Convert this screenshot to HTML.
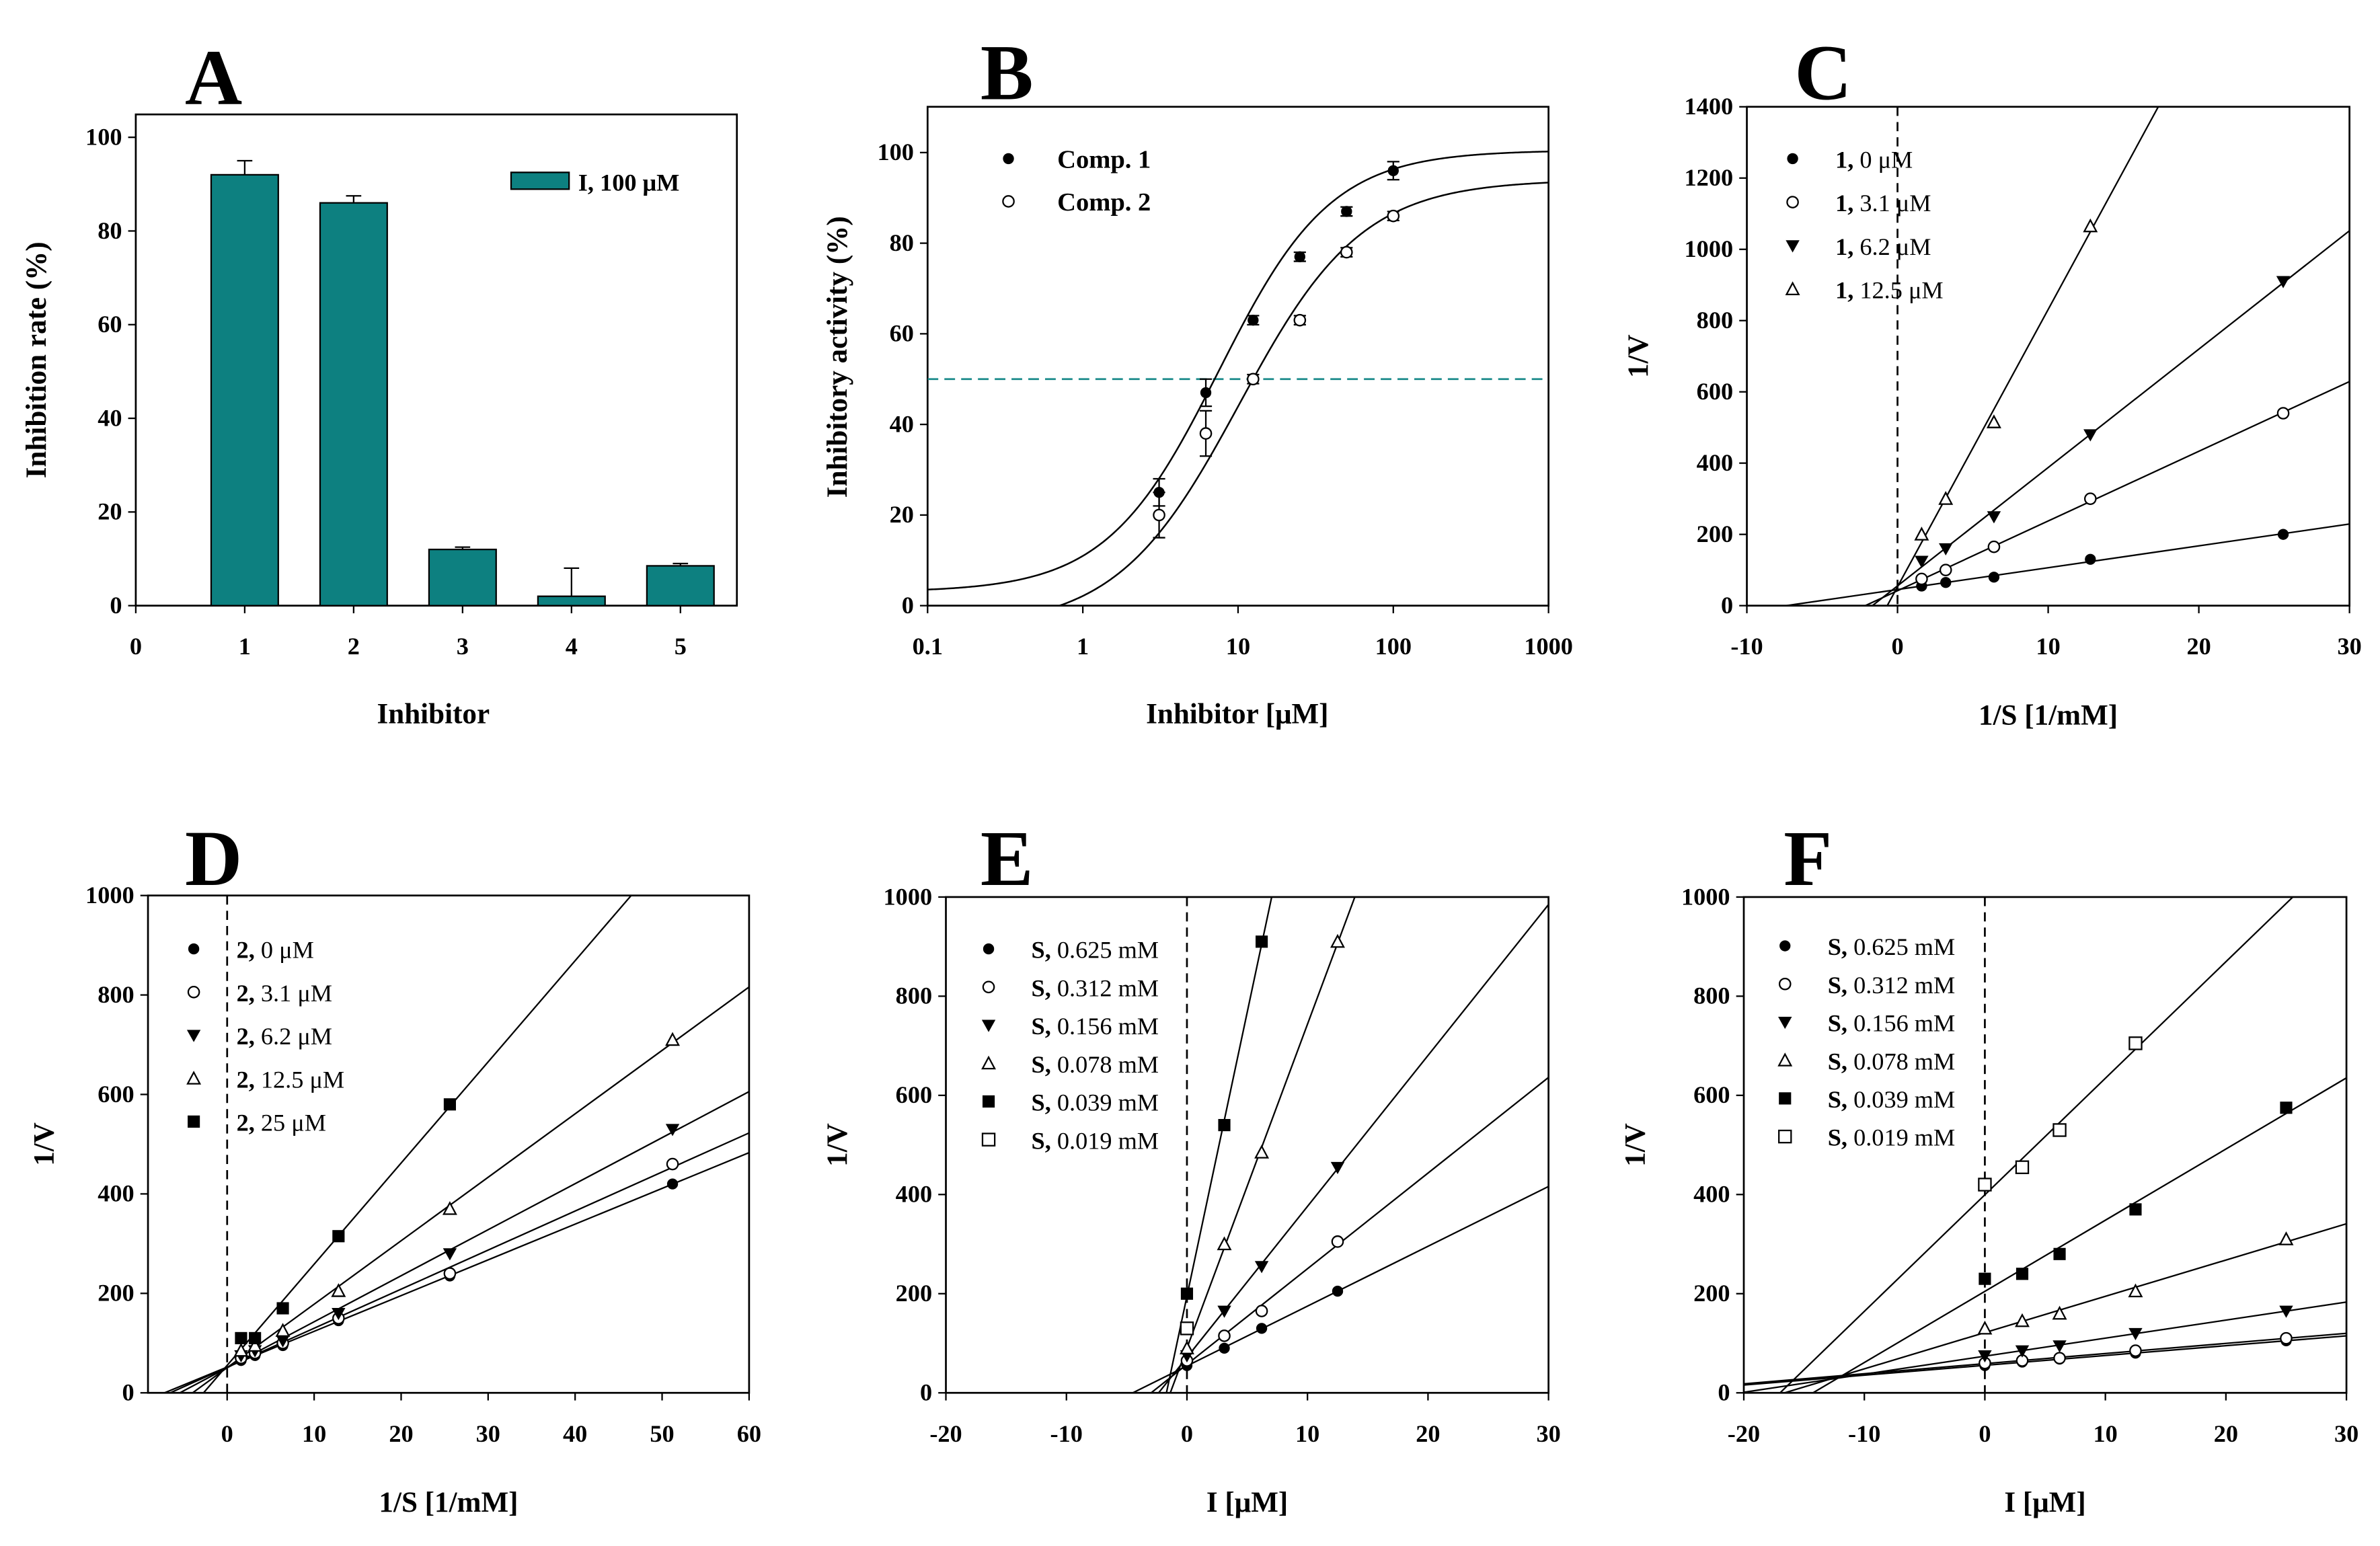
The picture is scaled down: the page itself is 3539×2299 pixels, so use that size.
<!DOCTYPE html>
<html><head><meta charset="utf-8"><style>
html,body{margin:0;padding:0;background:#fff;width:3539px;height:2299px;overflow:hidden}
svg{display:block}
text{font-family:"Liberation Serif",serif;font-weight:bold;fill:#000}
</style></head><body>
<svg id="fig" width="3539" height="2299" viewBox="0 0 1560 1013.4" preserveAspectRatio="none" xmlns="http://www.w3.org/2000/svg"></svg>
<script>
// ---- Panel A data ----
const aCats = [1,2,3,4,5];
const aVals = [92,86,12,2,8.5];
const aErr = [3,1.5,0.5,6,0.5];
// ---- Panel B data ----
const bConc = [3.1,6.2,12.5,25,50,100];
const bComp1 = [25,47,63,77,87,96];
const bComp2 = [20,38,50,63,78,86];
const bErr1 = [3,3,1,1,1,2];
const bErr2 = [5,5,1,1,1,1];
const bFit1 = [3,100.5,7.5,1.2];
const bFit2 = [-5,94,10.2,1.1];
const bXTicks = [0.1,1,10,100,1000];
const bXLabels = ["0.1","1","10","100","1000"];
// ---- Panel C data ----
const cX = [1.6,3.2,6.4,12.8,25.6];
const cNames = ["0 μM","3.1 μM","6.2 μM","12.5 μM"];
const cS0 = [55,65,80,130,200];
const cS1 = [75,100,165,300,540];
const cS2 = [125,160,250,480,910];
const cS3 = [200,300,515,1065];
// ---- Panel D data ----
const dX = [1.6,3.2,6.4,12.8,25.6,51.2];
const dNames = ["0 μM","3.1 μM","6.2 μM","12.5 μM","25 μM"];
const dS0 = [65,75,95,145,235,420];
const dS1 = [70,80,100,150,240,460];
const dS2 = [75,85,105,160,280,530];
const dS3 = [85,95,125,205,370,710];
const dS4 = [110,110,170,315,580];
// ---- Panel E data ----
const eX = [0,3.1,6.2,12.5];
const eNames = ["0.625 mM","0.312 mM","0.156 mM","0.078 mM","0.039 mM","0.019 mM"];
const eS0 = [55,90,130,205];
const eS1 = [65,115,165,305];
const eS2 = [75,165,255,455];
const eS3 = [90,300,485,910];
const eS4 = [200,540,910];
const eS5 = [130];
// ---- Panel F data ----
const fX = [0,3.1,6.2,12.5,25];
const fS0 = [55,62,68,80,105];
const fS1 = [60,65,70,85,110];
const fS2 = [75,85,95,120,165];
const fS3 = [130,145,160,205,310];
const fS4 = [230,240,280,370,575];
const fS5 = [420,455,530,705];

const NS="http://www.w3.org/2000/svg";
const svg=document.getElementById('fig');
function el(tag,attrs,parent){const e=document.createElementNS(NS,tag);for(const k in attrs)e.setAttribute(k,attrs[k]);(parent||svg).appendChild(e);return e;}
function txt(x,y,s,size,anchor,parent,rot){const t=el('text',{x:x,y:y,'font-size':size,'text-anchor':anchor||'middle'},parent);if(rot)t.setAttribute('transform','rotate(-90 '+x+' '+y+')');t.textContent=s;return t;}
let clipId=0;
function frame(name,L,R,T,B,letter,lx,ly){
  const g=el('g',{});
  
  
  el('rect',{x:L,y:T,width:R-L,height:B-T,fill:'none',stroke:'#000','stroke-width':1.2},g);
  const lt=txt(lx,ly,letter,52,'middle',g);
  
  
  return g;
}
function marker(g,type,x,y){
  const r=3.6;
  let m;
  if(type==='fc')m=el('circle',{cx:x,cy:y,r:r,fill:'#000'},g);
  else if(type==='oc')m=el('circle',{cx:x,cy:y,r:r,fill:'#fff',stroke:'#000','stroke-width':1},g);
  else if(type==='td')m=el('polygon',{points:`${x-4.5},${y-3.5} ${x+4.5},${y-3.5} ${x},${y+4.5}`,fill:'#000'},g);
  else if(type==='tu')m=el('polygon',{points:`${x-4},${y+3.5} ${x+4},${y+3.5} ${x},${y-4}`,fill:'#fff',stroke:'#000','stroke-width':1},g);
  else if(type==='fs')m=el('rect',{x:x-4,y:y-4,width:8,height:8,fill:'#000'},g);
  else m=el('rect',{x:x-4,y:y-4,width:8,height:8,fill:'#fff',stroke:'#000','stroke-width':1},g);
  
  
}
function yTicks(g,L,ys,vals,size){vals.forEach(v=>{const y=ys(v);el('line',{x1:L-5,x2:L,y1:y,y2:y,stroke:'#000'},g);txt(L-9,y+5,String(v),size,'end',g);});}
function xTicks(g,B,xs,vals,labels,size){vals.forEach((v,i)=>{const x=xs(v);el('line',{x1:x,x2:x,y1:B,y2:B+5,stroke:'#000'},g);txt(x,B+32,labels?labels[i]:String(v),size,'middle',g);});}
function linreg(xs,ys){const n=ys.length;let sx=0,sy=0,sxx=0,sxy=0;for(let i=0;i<n;i++){sx+=xs[i];sy+=ys[i];sxx+=xs[i]*xs[i];sxy+=xs[i]*ys[i];}const b=(n*sxy-sx*sy)/(n*sxx-sx*sx);return [ (sy-b*sx)/n, b];}
function lwPanel(name,L,R,T,B,x0,x1,y1,xsArr,series,types,prefix,names,xt,yt,letter,lx,ly,legX,legY,legDy,ylabel,yLx,xlabel){
  const g=frame(name,L,R,T,B,letter,lx,ly);
  const xs=v=>L+(v-x0)/(x1-x0)*(R-L), ys=v=>B-(v/y1)*(B-T);
  const cid='c'+(clipId++);
  const cp=el('clipPath',{id:cid},g);el('rect',{x:L,y:T,width:R-L,height:B-T},cp);
  const pg=el('g',{'clip-path':`url(#${cid})`},g);
  el('line',{x1:xs(0),x2:xs(0),y1:T,y2:B,stroke:'#000','stroke-dasharray':'6,4','stroke-width':1.2},pg);
  series.forEach((s,i)=>{
    if(s.length>=2){const [a,b]=linreg(xsArr.slice(0,s.length),s);
      const ln=el('line',{x1:xs(x0),y1:ys(a+b*x0),x2:xs(x1),y2:ys(a+b*x1),stroke:'#000','stroke-width':1},pg);
      
      }
  });
  series.forEach((s,i)=>{s.forEach((v,j)=>marker(g,types[i],xs(xsArr[j]),ys(v)));});
  names.forEach((n,i)=>{const y=legY+i*legDy;marker(g,types[i],legX,y);
    const t=el('text',{x:legX+28,y:y+6,'font-size':16,'text-anchor':'start'},g);
    
    
    const b=el('tspan',{},t);b.textContent=prefix+', ';
    const nb=el('tspan',{'font-weight':'normal'},t);nb.textContent=n;});
  yTicks(g,L,ys,yt,16);xTicks(g,B,xs,xt,null,16);
  const yl=txt(yLx,(T+B)/2,ylabel,19,'middle',g,true);
  
  const xl=txt((L+R)/2,B+78,xlabel,19,'middle',g);
  
}

// ---- Panel A ----
(function(){
  const L=89,R=483,T=75,B=397;
  const g=frame('panel-a',L,R,T,B,'A',140,68);
  const xs=v=>L+v*71.4, ys=v=>B-v*3.07;
  aCats.forEach((c,i)=>{
    const x=xs(c);
    el('line',{x1:x,x2:x,y1:ys(aVals[i]+aErr[i]),y2:ys(aVals[i]),stroke:'#000'},g);
    el('line',{x1:x-5,x2:x+5,y1:ys(aVals[i]+aErr[i]),y2:ys(aVals[i]+aErr[i]),stroke:'#000'},g);
    const r=el('rect',{x:x-22,y:ys(aVals[i]),width:44,height:B-ys(aVals[i]),fill:'#0d8080',stroke:'#000','stroke-width':1},g);
    
    
  });
  yTicks(g,L,ys,[0,20,40,60,80,100],16);
  xTicks(g,B,xs,[0,1,2,3,4,5],null,16);
  const lr=el('rect',{x:335,y:113,width:38,height:11,fill:'#0d8080',stroke:'#000'},g);
  
  const lt=el('text',{x:379,y:125,'font-size':16,'text-anchor':'start'},g);
  
  lt.textContent='I, 100 μM';
  const yl=txt(30,236,'Inhibition rate (%)',19,'middle',g,true);
  
  const xl=txt(284,474,'Inhibitor',19,'middle',g);
  
})();

// ---- Panel B ----
(function(){
  const L=608,R=1015,T=70,B=397;
  const g=frame('panel-b',L,R,T,B,'B',660,65);
  const xs=v=>L+(Math.log10(v)+1)*101.75, ys=v=>B-v*2.97;
  const cp=el('clipPath',{id:'cb'},g);el('rect',{x:L,y:T,width:R-L,height:B-T},cp);
  const pg=el('g',{'clip-path':'url(#cb)'},g);
  const dl=el('line',{x1:L,x2:R,y1:ys(50),y2:ys(50),stroke:'#1a8a8a','stroke-dasharray':'7,4','stroke-width':1.2},pg);
  
  [bFit1,bFit2].forEach(p=>{let d='';for(let k=0;k<=400;k++){const lv=-1+k*4/400,x=Math.pow(10,lv);const f=p[0]+(p[1]-p[0])/(1+Math.pow(p[2]/x,p[3]));d+=(k?'L':'M')+xs(x).toFixed(2)+','+ys(f).toFixed(2);}
    const pa=el('path',{d:d,fill:'none',stroke:'#000','stroke-width':1.1},pg);
    });
  [[bComp1,bErr1,'fc'],[bComp2,bErr2,'oc']].forEach(([s,e,t])=>{s.forEach((v,i)=>{const x=xs(bConc[i]);
    el('line',{x1:x,x2:x,y1:ys(v-e[i]),y2:ys(v+e[i]),stroke:'#000'},g);
    el('line',{x1:x-4,x2:x+4,y1:ys(v-e[i]),y2:ys(v-e[i]),stroke:'#000'},g);
    el('line',{x1:x-4,x2:x+4,y1:ys(v+e[i]),y2:ys(v+e[i]),stroke:'#000'},g);
    marker(g,t,x,ys(v));});});
  yTicks(g,L,ys,[0,20,40,60,80,100],16);
  xTicks(g,B,xs,bXTicks,bXLabels,16);
  [['Comp. 1','fc',104],['Comp. 2','oc',132]].forEach(([n,t,y])=>{marker(g,t,661,y);
    const tx=el('text',{x:693,y:y+6,'font-size':17,'text-anchor':'start'},g);
    tx.textContent=n;});
  const yl=txt(555,234,'Inhibitory activity (%)',19,'middle',g,true);
  
  const xl=txt(811,474,'Inhibitor [μM]',19,'middle',g);
  
})();

lwPanel('panel-c',1145,1540,70,397,-10,30,1400,cX,[cS0,cS1,cS2,cS3],['fc','oc','td','tu'],'1',cNames,[-10,0,10,20,30],[0,200,400,600,800,1000,1200,1400],'C',1195,65,1175,104,28.5,'1/V',1080,'1/S [1/mM]');
lwPanel('panel-d',97,491,587,913,-9.1,60,1000,dX,[dS0,dS1,dS2,dS3,dS4],['fc','oc','td','tu','fs'],'2',dNames,[0,10,20,30,40,50,60],[0,200,400,600,800,1000],'D',140,580,127,622,28.3,'1/V',35,'1/S [1/mM]');
lwPanel('panel-e',620,1015,588,913,-20,30,1000,eX,[eS0,eS1,eS2,eS3,eS4,eS5],['fc','oc','td','tu','fs','os'],'S',eNames,[-20,-10,0,10,20,30],[0,200,400,600,800,1000],'E',660,580,648,622,25,'1/V',555,'I [μM]');
lwPanel('panel-f',1143,1538,588,913,-20,30,1000,fX,[fS0,fS1,fS2,fS3,fS4,fS5],['fc','oc','td','tu','fs','os'],'S',eNames,[-20,-10,0,10,20,30],[0,200,400,600,800,1000],'F',1185,580,1170,620,25,'1/V',1078,'I [μM]');
</script>
</body></html>
